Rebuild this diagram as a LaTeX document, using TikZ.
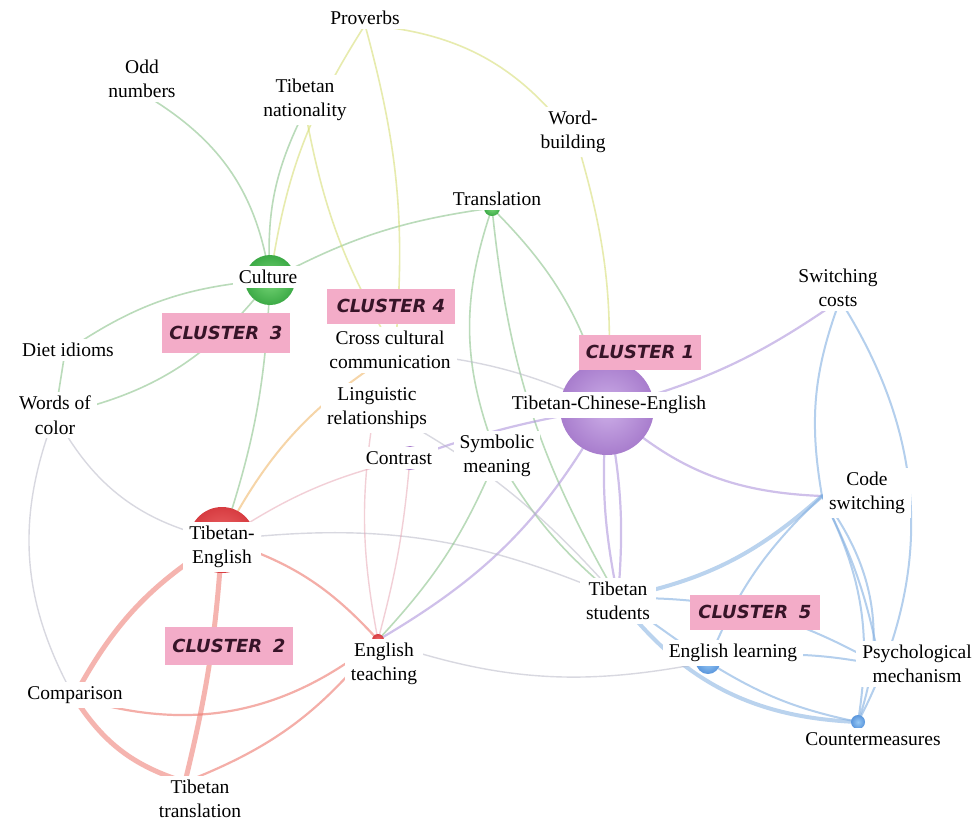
\documentclass[tikz,border=0pt]{standalone}
\usepackage{fontspec}
\setmainfont{Liberation Serif}
\newfontfamily\clfont{DejaVu Sans}
\definecolor{egreen}{RGB}{140,195,140}
\definecolor{eyellow}{RGB}{215,222,120}
\definecolor{epurple}{RGB}{175,150,220}
\definecolor{eblue}{RGB}{130,175,225}
\definecolor{ered}{RGB}{238,120,110}
\definecolor{egray}{RGB}{185,185,200}
\definecolor{epink}{RGB}{230,160,175}
\definecolor{eorange}{RGB}{240,185,110}
\definecolor{purL}{RGB}{205,175,232}
\definecolor{purD}{RGB}{168,125,205}
\definecolor{grnL}{RGB}{120,215,120}
\definecolor{grnD}{RGB}{60,170,70}
\definecolor{redL}{RGB}{240,110,110}
\definecolor{redD}{RGB}{215,60,65}
\definecolor{bluL}{RGB}{150,200,245}
\definecolor{bluD}{RGB}{90,150,220}
\definecolor{clpink}{RGB}{243,172,200}
\definecolor{cltext}{RGB}{55,20,40}
\begin{document}
\begin{tikzpicture}[x=1pt,y=1pt,line cap=round,
  eg/.style={draw=egreen,line width=1.6pt,opacity=0.6},
  ey/.style={draw=eyellow,line width=1.6pt,opacity=0.6},
  eo/.style={draw=eorange,line width=2pt,opacity=0.6},
  ep/.style={draw=epurple,line width=2.2pt,opacity=0.6},
  eb/.style={draw=eblue,line width=2pt,opacity=0.6},
  ebt/.style={draw=eblue,line width=4pt,opacity=0.55},
  er/.style={draw=ered,line width=2.2pt,opacity=0.6},
  ert/.style={draw=ered,line width=5pt,opacity=0.55},
  egr/.style={draw=egray,line width=1.4pt,opacity=0.55},
  ek/.style={draw=epink,line width=1.4pt,opacity=0.5},
  ball/.style={circle,inner sep=0pt},
  lab/.style={fill=white,align=center,inner xsep=6pt,inner ysep=4pt,
    font=\fontsize{19.5}{24.5}\selectfont},
  clbox/.style={fill=clpink,inner xsep=7pt,minimum height=35pt,
    text=cltext,font=\clfont\bfseries\itshape\fontsize{18}{20}\selectfont}]
\useasboundingbox (0,0) rectangle (974,-823);
\fill[white] (0,0) rectangle (974,-823);

% keyword positions
\coordinate (tce) at (607,-408);
\coordinate (cul) at (270,-280);
\coordinate (te)  at (222,-540);
\coordinate (ts)  at (618,-598);
\coordinate (el)  at (708,-662);
\coordinate (tr)  at (492,-208);
\coordinate (con) at (410,-458);
\coordinate (cmp) at (74,-697);
\coordinate (et)  at (378,-640);
\coordinate (ttr) at (185,-782);
\coordinate (cm)  at (858,-722);
\coordinate (cs)  at (822,-496);
\coordinate (pm)  at (880,-665);
\coordinate (sc)  at (840,-300);
\coordinate (wb)  at (578,-145);
\coordinate (pro) at (365,-25);
\coordinate (odd) at (150,-98);
\coordinate (tn)  at (305,-110);
\coordinate (di)  at (65,-352);
\coordinate (woc) at (55,-415);
\coordinate (ccc) at (395,-352);
\coordinate (lr)  at (375,-405);
\coordinate (sm)  at (497,-456);

% green edges
\draw[eg] (cul) to[bend right=25] (odd);
\draw[eg] (cul) to[bend left=15] (tn);
\draw[eg] (cul) to[bend left=10] (tr);
\draw[eg] (cul) to[bend right=15] (di);
\draw[eg] (woc) to[bend right=20] (cul);
\draw[egr] (woc) to[bend right=25] (te);
\draw[egr] (woc) to[bend right=25] (cmp);
\draw[eg] (di) to (woc);
\draw[eg] (cul) to[bend left=8] (te);
\draw[eg] (tr) to[bend left=15] (tce);
\draw[eg] (tr) to[bend right=20] (sm);
\draw[eg] (sm) to[bend right=10] (ts);
\draw[eg] (tr) to[bend right=12] (ts);
% yellow edges
\draw[ey] (pro) to[bend left=25] (wb);
\draw[ey] (pro) to[bend right=12] (cul);
\draw[ey] (pro) to[bend left=10] (ccc);
\draw[ey] (wb) to[bend left=10] (tce);
\draw[ey] (tn) to[bend right=10] (ccc);
\draw[eo] (ccc) to[bend right=15] (te);
\draw[egr] (ccc) to[bend left=10] (tce);
% purple edges
\draw[ep] (tce) to[bend right=10] (sc);
\draw[ep] (tce) to[bend right=20] (cs);
\draw[ep] (tce) to[bend left=8] (ts);
\draw[ep] (tce) to[bend right=8] (ts);
\draw[ep] (tce) to[bend right=5] (con);
\draw[ep] (tce) to[bend left=15] (et);
\draw[ek] (te) to[bend left=10] (con);
\draw[egr] (te) to[bend left=15] (ts);
\draw[egr] (lr) to[bend left=10] (ts);
\draw[ek] (et) to[bend left=10] (lr);
\draw[eg] (et) to[bend right=10] (sm);
\draw[ek] (et) to[bend right=5] (con);
% blue edges
\draw[ebt] (ts) to[bend right=15] (cs);
\draw[eb] (sc) to[bend right=15] (cs);
\draw[eb] (cs) to[bend left=8] (pm);
\draw[eb] (cs) to[bend left=18] (cm);
\draw[eb] (cs) to[bend left=28] (cm);
\draw[ebt] (ts) to[bend right=25] (cm);
\draw[eb] (ts) to (el);
\draw[eb] (el) to[bend left=10] (pm);
\draw[eb] (sc) to[bend left=30] (cm);
\draw[eb] (ts) to[bend left=15] (pm);
\draw[eb] (el) to[bend right=10] (cm);
\draw[eb] (cs) to[bend right=12] (el);
\draw[egr] (et) to[bend right=15] (el);
% red edges
\draw[ert] (te) to[bend right=15] (cmp);
\draw[ert] (te) to[bend left=5] (ttr);
\draw[er] (te) to[bend left=15] (et);
\draw[ert] (cmp) to[bend right=20] (ttr);
\draw[er] (cmp) to[bend right=28] (et);
\draw[er] (ttr) to[bend right=15] (et);

% keyword circles
\node[ball,minimum size=94pt,inner color=purL,outer color=purD] (tceC) at (tce) {};
\node[ball,minimum size=50pt,inner color=grnL,outer color=grnD] (culC) at (cul) {};
\node[ball,minimum size=66pt,inner color=redL,outer color=redD] (teC) at (te) {};
\node[ball,minimum size=40pt,inner color=bluL,outer color=bluD] (tsC) at (ts) {};
\node[ball,minimum size=24pt,inner color=bluL,outer color=bluD] (elC) at (el) {};
\node[ball,minimum size=16pt,inner color=grnL,outer color=grnD] (trC) at (tr) {};
\node[ball,minimum size=24pt,inner color=purL,outer color=purD] (conC) at (con) {};
\node[ball,minimum size=12pt,inner color=redL,outer color=redD] (cmpC) at (cmp) {};
\node[ball,minimum size=12pt,inner color=redL,outer color=redD] (etC) at (et) {};
\node[ball,minimum size=14pt,inner color=bluL,outer color=bluD] (cmC) at (cm) {};

% cluster labels
\node[clbox,minimum width=128pt] (cl4) at (391,-306) {CLUSTER 4};
\node[clbox,minimum width=128pt,minimum height=40pt] (cl3) at (226,-333) {CLUSTER\hspace{0.6em}3};
\node[clbox,minimum width=114pt] (cl1) at (640,-352) {CLUSTER 1};
\node[clbox,minimum width=130pt] (cl5) at (755,-612) {CLUSTER\hspace{0.6em}5};
\node[clbox,minimum width=127pt,minimum height=38pt] (cl2) at (229,-646) {CLUSTER\hspace{0.6em}2};

% keyword labels
\node[lab] (proL) at (365,-18) {Proverbs};
\node[lab] (oddL) at (142,-79) {Odd\\numbers};
\node[lab] (tnL) at (305,-100) {Tibetan\\nationality};
\node[lab] (wbL) at (573,-132) {Word-\\building};
\node[lab] (trL) at (497,-199) {Translation};
\node[lab] (culL) at (268,-277) {Culture};
\node[lab] (scL) at (838,-288) {Switching\\costs};
\node[lab] (cccL) at (390,-350) {Cross cultural\\communication};
\node[lab] (diL) at (68,-350) {Diet idioms};
\node[lab] (lrL) at (377,-408) {Linguistic\\relationships};
\node[lab] (tceL) at (609,-405) {Tibetan-Chinese-English};
\node[lab] (wocL) at (55,-415) {Words of\\color};
\node[lab] (conL) at (399,-458) {Contrast};
\node[lab] (smL) at (497,-456) {Symbolic\\meaning};
\node[lab] (csL) at (867,-493) {Code\\switching};
\node[lab] (teL) at (222,-547) {Tibetan-\\English};
\node[lab] (tsL) at (618,-601) {Tibetan\\students};
\node[lab] (etL) at (384,-664) {English\\teaching};
\node[lab] (elL) at (733,-653) {English learning};
\node[lab] (pmL) at (917,-664) {Psychological\\mechanism};
\node[lab] (cmpL) at (75,-695) {Comparison};
\node[lab] (cmL) at (873,-739) {Countermeasures};
\node[lab] (ttrL) at (200,-799) {Tibetan\\translation};
\end{tikzpicture}
\end{document}
